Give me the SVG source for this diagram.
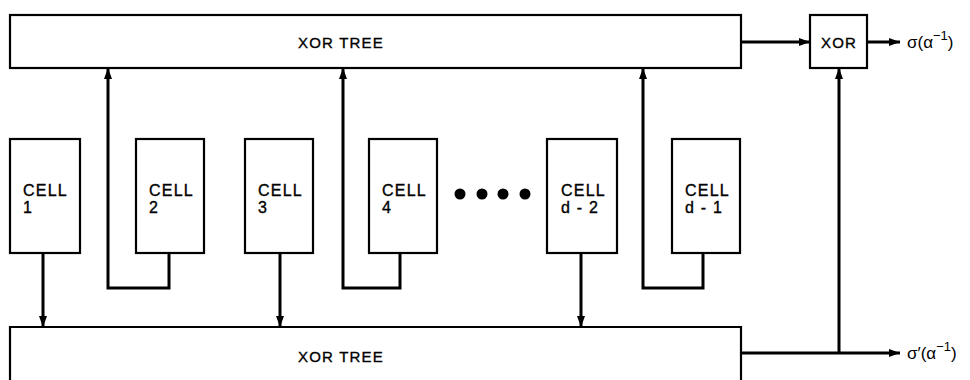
<svg xmlns="http://www.w3.org/2000/svg" width="970" height="380" viewBox="0 0 970 380">
<defs>
<marker id="ah" viewBox="0 0 11 8" refX="11" refY="4" markerWidth="11" markerHeight="8" markerUnits="userSpaceOnUse" orient="auto">
<path d="M0,0 L11,4 L0,8 Z" fill="#000"/>
</marker>
</defs>
<style>
.box{fill:#fff;stroke:#000;stroke-width:2.2}
.ln{fill:none;stroke:#000;stroke-width:3}
.t{font-family:"Liberation Sans",Arial,sans-serif;font-size:15px;fill:#000;letter-spacing:1.2px;stroke:#000;stroke-width:0.35}
.c{font-family:"Liberation Sans",Arial,sans-serif;font-size:16px;fill:#000;letter-spacing:1.2px;stroke:#000;stroke-width:0.35}
.s{font-family:"Liberation Sans",Arial,sans-serif;font-size:17px;fill:#000}
</style>
<rect width="970" height="380" fill="#fff"/>
<g id="xor-tree-top">
<rect class="box" x="10" y="15" width="731" height="53"/>
<text class="t" x="341" y="48" text-anchor="middle">XOR TREE</text>
</g>
<g id="xor-tree-bottom">
<path class="box" d="M10,390 L10,327 L741,327 L741,390"/>
<text class="t" x="341" y="362" text-anchor="middle">XOR TREE</text>
</g>
<g id="xor">
<rect class="box" x="810" y="15" width="57" height="53"/>
<text class="t" x="839" y="48" text-anchor="middle">XOR</text>
</g>
<g id="cell1">
<rect class="box" x="10" y="139" width="70" height="114"/>
<text class="c" x="23" y="196">CELL</text>
<text class="c" x="23" y="213">1</text>
</g>
<g id="cell2">
<rect class="box" x="136" y="139" width="68" height="114"/>
<text class="c" x="149" y="196">CELL</text>
<text class="c" x="149" y="213">2</text>
</g>
<g id="cell3">
<rect class="box" x="245" y="139" width="68" height="114"/>
<text class="c" x="258" y="196">CELL</text>
<text class="c" x="258" y="213">3</text>
</g>
<g id="cell4">
<rect class="box" x="369" y="139" width="68" height="114"/>
<text class="c" x="382" y="196">CELL</text>
<text class="c" x="382" y="213">4</text>
</g>
<g id="dots">
<circle cx="460" cy="194" r="5.5"/>
<circle cx="482" cy="194" r="5.5"/>
<circle cx="503" cy="194" r="5.5"/>
<circle cx="525" cy="194" r="5.5"/>
</g>
<g id="cell-d-2">
<rect class="box" x="547" y="139" width="70" height="114"/>
<text class="c" x="561" y="196">CELL</text>
<text class="c" x="561" y="213">d - 2</text>
</g>
<g id="cell-d-1">
<rect class="box" x="672" y="139" width="68" height="114"/>
<text class="c" x="685" y="196">CELL</text>
<text class="c" x="685" y="213">d - 1</text>
</g>
<g id="connectors">
<path class="ln" d="M43,253 L43,327" marker-end="url(#ah)"/>
<path class="ln" d="M169,253 L169,288 L108,288 L108,68" marker-end="url(#ah)"/>
<path class="ln" d="M280,253 L280,327" marker-end="url(#ah)"/>
<path class="ln" d="M400,253 L400,288 L343,288 L343,68" marker-end="url(#ah)"/>
<path class="ln" d="M581,253 L581,327" marker-end="url(#ah)"/>
<path class="ln" d="M703,253 L703,288 L643,288 L643,68" marker-end="url(#ah)"/>
<path class="ln" d="M741,42 L810,42" marker-end="url(#ah)"/>
<path class="ln" d="M867,42 L900,42" marker-end="url(#ah)"/>
<path class="ln" d="M741,353 L900,353" marker-end="url(#ah)"/>
<path class="ln" d="M839,353 L839,68" marker-end="url(#ah)"/>
</g>
<g id="labels">
<text class="s" x="907" y="48">σ(α<tspan dy="-8" font-size="13">−1</tspan><tspan dy="8">)</tspan></text>
<text class="s" x="907" y="359">σ′(α<tspan dy="-8" font-size="13">−1</tspan><tspan dy="8">)</tspan></text>
</g>
</svg>
